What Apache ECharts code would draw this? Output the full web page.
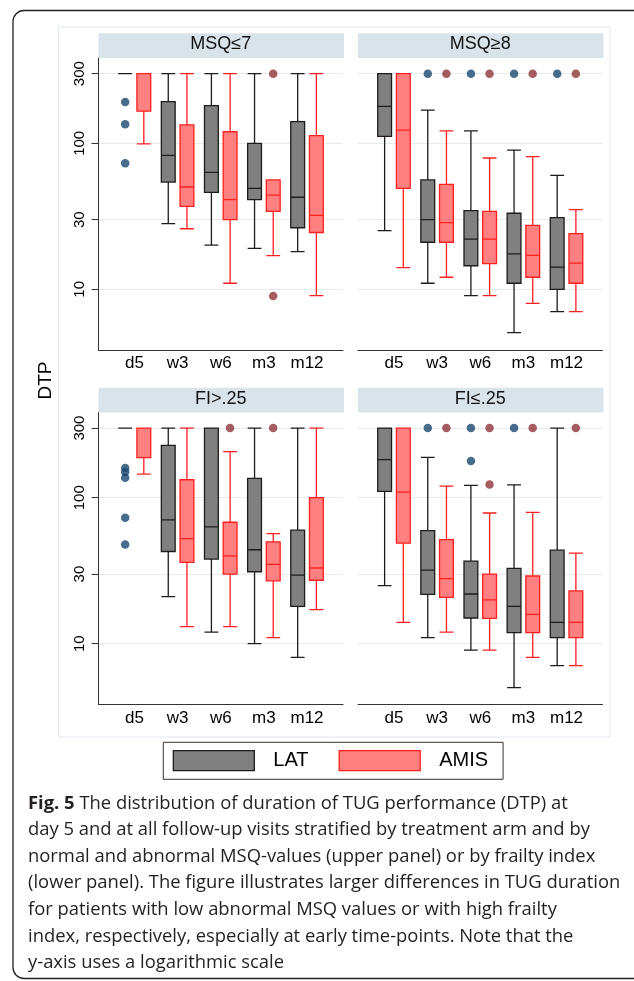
<!DOCTYPE html>
<html><head><meta charset="utf-8">
<script src="https://cdn.jsdelivr.net/npm/echarts@6/dist/echarts.min.js"></script>
<style>html,body{margin:0;padding:0;background:#fff}#c{width:634px;height:981px}</style>
</head><body><div id="c"></div>
<script>
// ---------- data (natural units, seconds) ----------
const categories = ['d5', 'w3', 'w6', 'm3', 'm12'];
const yTickValues = [10, 30, 100, 300];
const panelTitles = ['MSQ\u22647', 'MSQ\u22658', 'FI>.25', 'FI\u2264.25'];
const groupNames = ['LAT', 'AMIS'];

// boxes: [min, Q1, median, Q3, max] per category
const msqLowLAT  = [[300,300,300,300,300],[28.2,54.3,82.8,193,300],[20.1,46.1,63.2,181,300],[19.1,41.1,49.2,100,300],[18.1,26.4,42.7,140.6,300]];
const msqLowAMIS = [[99,166,300,300,300],[26,37,50.2,133.6,300],[11,30,41.1,120,300],[17,34.2,44.1,56.1,56.1],[9.06,24.5,32.1,112.9,300]];
const msqLowLATOut  = [['d5',192],['d5',135],['d5',73]];
const msqLowAMISOut = [['m3',300],['m3',9.0]];

const msqHighLAT  = [[25.2,111.7,179,300,300],[11,21,30,56.1,169],[9.06,14.5,22.1,34.6,121.8],[5.05,11,17.5,33.2,89.9],[7.03,10,14.2,31,60.4]];
const msqHighAMIS = [[14.1,49.2,123.3,300,300],[12.1,21,28.6,52.4,121.5],[9.06,15,22.1,34.2,79.3],[8.02,12.1,17.1,27.4,81.1],[7.03,11,15.1,24.1,35.1]];
const msqHighLATOut  = [['w3',300],['w6',300],['m3',300],['m12',300]];
const msqHighAMISOut = [['w3',300],['w6',300],['m3',300],['m12',300]];

const fiHighLAT  = [[300,300,300,300,300],[21,42.8,70.5,228.6,300],[12,38,63.1,300,300],[10,31.1,44,135.5,300],[8.07,18,29.5,59.9,300]];
const fiHighAMIS = [[145,188,300,300,300],[13.1,36.1,52.5,132.7,300],[13.1,30,40,67.9,207],[11,26.9,34.9,49.9,56.8],[17.1,27.2,33,100,300]];
const fiHighLATOut  = [['d5',160],['d5',150],['d5',137],['d5',73],['d5',47.8]];
const fiHighAMISOut = [['w6',300],['m3',300]];

const fiLowLAT  = [[25,110.4,182.5,300,300],[11,21.8,31.9,59.6,189],[9.05,15,21.9,36.8,121.3],[5,11.9,18,32.8,122.6],[7.08,11,14,43.7,300]];
const fiLowAMIS = [[14,48.8,109.3,300,300],[12,20.8,27.9,51.7,120.1],[9.05,14.9,19.95,30,78.6],[8.07,11.9,15.9,29.1,79.4],[7.08,11,14,23,41.7]];
const fiLowLATOut  = [['w3',300],['w6',300],['w6',178.6],['m3',300]];
const fiLowAMISOut = [['w3',300],['w6',300],['w6',123],['m3',300],['m12',300]];

const captionLines = [
  '{b|Fig. 5} The distribution of duration of TUG performance (DTP) at',
  'day 5 and at all follow-up visits stratified by treatment arm and by',
  'normal and abnormal MSQ-values (upper panel) or by frailty index',
  '(lower panel). The figure illustrates larger differences in TUG duration',
  'for patients with low abnormal MSQ values or with high frailty',
  'index, respectively, especially at early time-points. Note that the',
  'y-axis uses a logarithmic scale'
];

// ---------- layout ----------
const panels = [
  { title: panelTitles[0], lat: msqLowLAT,  amis: msqLowAMIS,  latOut: msqLowLATOut,  amisOut: msqLowAMISOut,  left: 98.5, top: 58,    showY: true },
  { title: panelTitles[1], lat: msqHighLAT, amis: msqHighAMIS, latOut: msqHighLATOut, amisOut: msqHighAMISOut, left: 358,  top: 58,    showY: false },
  { title: panelTitles[2], lat: fiHighLAT,  amis: fiHighAMIS,  latOut: fiHighLATOut,  amisOut: fiHighAMISOut,  left: 98.5, top: 412.4, showY: true },
  { title: panelTitles[3], lat: fiLowLAT,   amis: fiLowAMIS,   latOut: fiLowLATOut,   amisOut: fiLowAMISOut,   left: 358,  top: 412.4, showY: false }
];
const PW = 244.5, PH = 292, INSET = 14.4;
const yMin = Math.log10(3.84), yMax = Math.log10(384);
const lg = v => Math.log10(v);
const tickLog = yTickValues.map(lg);
const FONT = 'Liberation Sans';
const LAT_STYLE = { color: '#808080', borderColor: '#1c1c1c', borderWidth: 1.3 };
const AMIS_STYLE = { color: '#ff8080', borderColor: '#ff1f1f', borderWidth: 1.3 };

const grid = [], xAxis = [], yAxis = [], series = [], graphic = [];

// outer frame and inner region border
graphic.push({ type: 'rect', shape: { x: 13, y: 10.5, width: 640, height: 968, r: 11 }, style: { fill: 'none', stroke: '#222', lineWidth: 1.3 }, z: 0 });
graphic.push({ type: 'rect', shape: { x: 58.5, y: 27, width: 551.5, height: 710 }, style: { fill: 'none', stroke: '#e1e9ee', lineWidth: 1 }, z: 0 });

panels.forEach((p, i) => {
  const gF = 2 * i, gD = 2 * i + 1;
  grid.push({ left: p.left, top: p.top, width: PW, height: PH });
  grid.push({ left: p.left + INSET, top: p.top, width: PW - 2 * INSET, height: PH });

  xAxis.push({ type: 'value', gridIndex: gF, min: 0, max: 1,
    axisLine: { show: true, onZero: false, lineStyle: { color: '#333', width: 1 } },
    axisTick: { show: false }, axisLabel: { show: false }, splitLine: { show: false } });
  xAxis.push({ type: 'category', gridIndex: gD, data: categories,
    axisLine: { show: false }, axisTick: { show: false },
    axisLabel: { fontSize: 17, color: '#000', margin: 5, fontFamily: FONT } });

  yAxis.push({ type: 'value', gridIndex: gF, min: yMin, max: yMax,
    axisLine: { show: p.showY, onZero: false, lineStyle: { color: '#333', width: 1 } },
    axisTick: { show: p.showY, length: 7, customValues: tickLog, lineStyle: { color: '#333' } },
    axisLabel: { show: p.showY, customValues: tickLog, rotate: 90, fontSize: 15, color: '#000', margin: 11, fontFamily: FONT,
      formatter: v => String(Math.round(Math.pow(10, v))) },
    splitLine: { show: true, lineStyle: { color: '#e3ebef', width: 1 } } });
  yAxis.push({ type: 'value', gridIndex: gD, min: yMin, max: yMax, show: false });

  // panel title strip
  graphic.push({ type: 'rect', shape: { x: p.left, y: p.top - 24.7, width: PW + 1, height: 24.7 }, style: { fill: '#d9e4ea' }, z: 1 });
  graphic.push({ type: 'text', x: p.left + PW / 2, y: p.top - 13.5, style: { text: p.title, fontSize: 18, fontFamily: FONT, fill: '#111', textAlign: 'center', textVerticalAlign: 'middle' }, z: 2 });

  const toLog = rows => rows.map(r => r.map(lg));
  const outLog = rows => rows.map(([c, v]) => [c, lg(v)]);
  series.push({ name: groupNames[0], type: 'boxplot', xAxisIndex: gD, yAxisIndex: gD, data: toLog(p.lat),
    itemStyle: LAT_STYLE, emphasis: { disabled: true }, z: 3 });
  series.push({ name: groupNames[1], type: 'boxplot', xAxisIndex: gD, yAxisIndex: gD, data: toLog(p.amis),
    itemStyle: AMIS_STYLE, emphasis: { disabled: true }, z: 3 });
  series.push({ name: 'LAT outside', type: 'scatter', xAxisIndex: gD, yAxisIndex: gD, data: outLog(p.latOut),
    symbolSize: 8.5, symbolOffset: [-9.3, 0], itemStyle: { color: '#1a476f' }, emphasis: { disabled: true }, z: 4 });
  series.push({ name: 'AMIS outside', type: 'scatter', xAxisIndex: gD, yAxisIndex: gD, data: outLog(p.amisOut),
    symbolSize: 8.5, symbolOffset: [9.3, 0], itemStyle: { color: '#90353b' }, emphasis: { disabled: true }, z: 4 });
});

// y axis title
graphic.push({ type: 'text', x: 46, y: 380.5, rotation: Math.PI / 2, style: { text: 'DTP', fontSize: 19, fontFamily: FONT, fill: '#000', textAlign: 'center', textVerticalAlign: 'middle' }, z: 2 });

const chart = echarts.init(document.getElementById('c'), null, { renderer: 'canvas' });
chart.setOption({
  animation: false,
  backgroundColor: '#fff',
  textStyle: { fontFamily: FONT },
  grid, xAxis, yAxis, series, graphic,
  legend: {
    data: [
      { name: groupNames[0], itemStyle: LAT_STYLE },
      { name: groupNames[1], itemStyle: AMIS_STYLE }
    ],
    left: 163.3, top: 742.3, orient: 'horizontal',
    icon: 'rect', itemWidth: 81, itemHeight: 20, itemGap: 30,
    padding: [7.7, 15, 8, 9.4], borderColor: '#333', borderWidth: 1,
    textStyle: { fontSize: 20, fontFamily: FONT, color: '#000', padding: [0, 0, 0, 14] },
    selectedMode: false
  },
  title: {
    left: 28, top: 790, padding: 0,
    text: captionLines.join('\n'),
    textStyle: { fontFamily: 'Open Sans', fontSize: 18.4, fontWeight: 'normal', color: '#231f20', lineHeight: 26.6,
      rich: { b: { fontFamily: 'Open Sans', fontSize: 18.4, fontWeight: 'bold', color: '#231f20', lineHeight: 26.6 } } }
  }
});
</script></body></html>
